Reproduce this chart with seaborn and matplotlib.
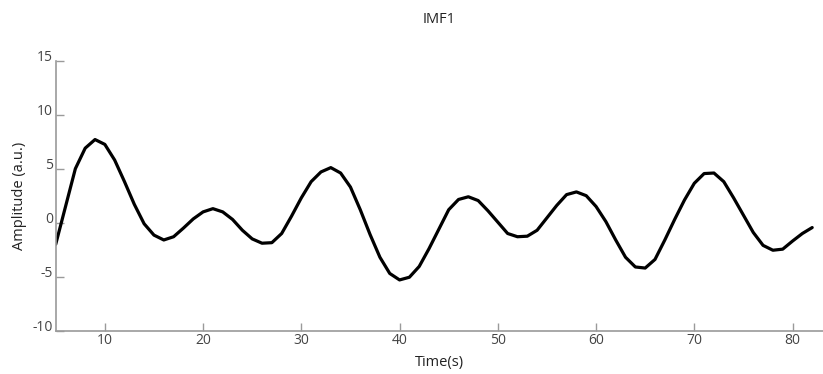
import matplotlib
matplotlib.use("Agg")
import matplotlib.pyplot as plt
import seaborn as sns
import pandas as pd

time_s = list(range(5, 83))
amplitude = [
    -2.0, 1.5, 5.0, 6.9, 7.7, 7.25, 5.8, 3.8, 1.7, -0.1,
    -1.15, -1.6, -1.3, -0.5, 0.35, 1.0, 1.3, 1.0, 0.3, -0.7,
    -1.5, -1.9, -1.85, -1.0, 0.6, 2.3, 3.8, 4.7, 5.1, 4.6,
    3.3, 1.2, -1.1, -3.2, -4.7, -5.3, -5.05, -4.05, -2.4, -0.6,
    1.2, 2.15, 2.4, 2.05, 1.1, 0.05, -1.0, -1.3, -1.25, -0.7,
    0.45, 1.6, 2.6, 2.85, 2.5, 1.5, 0.1, -1.6, -3.2, -4.1,
    -4.2, -3.4, -1.6, 0.3, 2.1, 3.65, 4.55, 4.6, 3.8, 2.3,
    0.7, -0.9, -2.1, -2.55, -2.45, -1.7, -1.0, -0.45,
]
x_ticks = [10, 20, 30, 40, 50, 60, 70, 80]
y_ticks = [-10, -5, 0, 5, 10, 15]
title = "IMF1"
x_label = "Time(s)"
y_label = "Amplitude (a.u.)"

sns.set_theme(style="white")
plt.rcParams["font.family"] = ["Open Sans", "DejaVu Sans"]

df = pd.DataFrame({"t": time_s, "a": amplitude})

fig = plt.figure(figsize=(8.23, 3.74), dpi=100)
ax = fig.add_axes([0.0677, 0.1158, 0.9323, 0.7219])
sns.lineplot(data=df, x="t", y="a", ax=ax, color="black", linewidth=2.3)

ax.set_xlim(5, 83.1)
ax.set_ylim(-10, 15)
ax.set_xticks(x_ticks)
ax.set_yticks(y_ticks)
ax.set_xticklabels([str(v) for v in x_ticks])
ax.set_yticklabels([str(v) for v in y_ticks])
for lbl in ax.get_yticklabels():
    lbl.set_verticalalignment("baseline")

for s in ["top", "right"]:
    ax.spines[s].set_visible(False)
for s in ["left", "bottom"]:
    ax.spines[s].set_color("#9a9a9a")
    ax.spines[s].set_linewidth(1.2)

ax.tick_params(axis="both", direction="in", length=5.5, width=1, color="#9a9a9a",
               labelsize=10, labelcolor="#444444", left=True, bottom=True)
ax.tick_params(axis="y", pad=2)
ax.tick_params(axis="x", pad=2)

ax.set_xlabel(x_label, fontsize=10.5, color="#222222", labelpad=5)
ax.set_ylabel(y_label, fontsize=10.5, color="#222222", labelpad=4)
ax.set_title(title, fontsize=10.5, color="#222222", pad=27)
ax.grid(False)

fig.savefig("out.png", dpi=100)
